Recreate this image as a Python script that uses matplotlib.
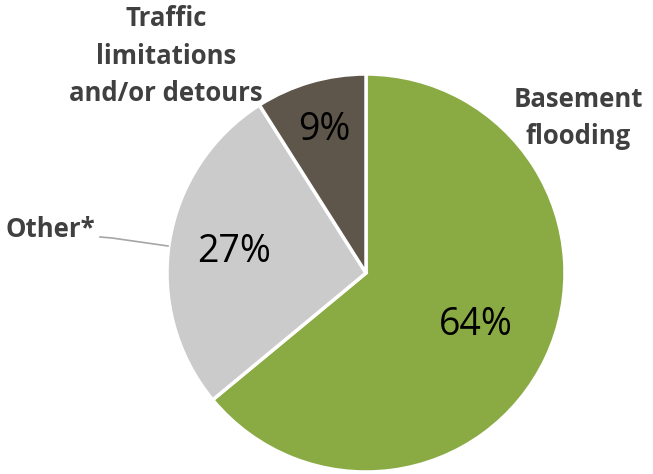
import numpy as np
import matplotlib.pyplot as plt

plt.rcParams['font.family'] = ['Open Sans', 'DejaVu Sans']

# данные
labels = ['Basement\nflooding', 'Other*', 'Traffic\nlimitations\nand/or detours']
values = [64, 27, 9]
colors = ['#8aab44', '#cbcbcb', '#5f564b']
pct_dist = [0.61, 0.67, 0.75]

W, H = 653, 474
fig = plt.figure(figsize=(W / 100, H / 100), dpi=100)
ax = fig.add_axes([0, 0, 1, 1])

cx, cy, r = 366, H - 273, 199
wedges, _ = ax.pie(values, colors=colors, startangle=90, counterclock=False,
                   center=(cx, cy), radius=r, frame=True,
                   wedgeprops=dict(edgecolor='white', linewidth=2.5))
ax.set_xlim(0, W)
ax.set_ylim(0, H)
ax.axis('off')

# проценты внутри секторов
for w, v, d in zip(wedges, values, pct_dist):
    a = np.deg2rad((w.theta1 + w.theta2) / 2)
    ax.text(cx + d * r * np.cos(a), cy + d * r * np.sin(a), f'{v}%',
            ha='center', va='center', fontsize=27, color='black')

# подписи категорий
lab_pos = [(578, 118), (50, 229), (166, 56)]
for lab, (x, y) in zip(labels, lab_pos):
    ax.text(x, H - y, lab, ha='center', va='center', fontsize=18.5,
            fontweight='bold', color='#404040', linespacing=1.5)

# выноска для Other*
ax.plot([100, 112, 168], [H - 237, H - 238, H - 246], color='#a6a6a6', lw=1.2)

fig.savefig('out.png', dpi=100)
